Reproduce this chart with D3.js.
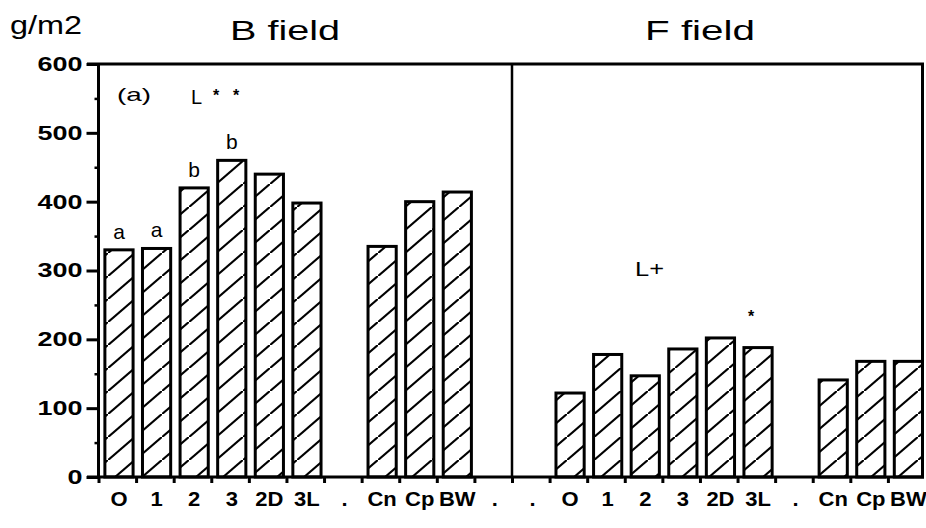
<!DOCTYPE html>
<html>
<head>
<meta charset="utf-8">
<script src="https://cdn.jsdelivr.net/npm/d3@7"></script>
<style>
  html, body { margin: 0; padding: 0; background: #fff; }
  svg { display: block; }
  text { font-family: "Liberation Sans", Arial, Helvetica, sans-serif; fill: #000; }
</style>
</head>
<body>
<svg id="chart" width="926" height="528"></svg>
<script>
// Slot labels along the x axis (B field then F field, with "." spacer slots)
const slotLabels = ["O", "1", "2", "3", "2D", "3L", ".", "Cn", "Cp", "BW", ".",
                    ".", "O", "1", "2", "3", "2D", "3L", ".", "Cn", "Cp", "BW"];
// Biomass (g/m2) per slot; null = empty spacer slot
const bFieldValues = [330, 332, 420, 460, 440, 398, null, 335, 400, 414, null];
const fFieldValues = [null, 122, 178, 147, 186, 202, 188, null, 141, 168, 168];
// Letters marking significant groups over the first B field bars
const sigLetters = ["a", "a", "b", "b"];
const yTicks = [0, 100, 200, 300, 400, 500, 600];
const yMinorTicks = [50, 150, 250, 350, 450, 550];
const panelTitles = ["B  field", "F  field"];

const values = bFieldValues.concat(fFieldValues);
const data = values.map((v, i) => ({ i, label: slotLabels[i], v }));

const svg = d3.select("#chart");
const plotLeft = 98.5, plotRight = 925.5, plotTop = 64, plotBottom = 477;

const x = d3.scaleBand().domain(d3.range(slotLabels.length)).range([plotLeft, plotRight]).padding(0);
const step = x.step();
const xEdge = d3.scaleLinear().domain([0, slotLabels.length]).range([plotLeft, plotRight]);
const y = d3.scaleLinear().domain([0, 600]).range([plotBottom, plotTop]);

// diagonal hatch fill
const defs = svg.append("defs");
const pat = defs.append("pattern")
  .attr("id", "hatch").attr("patternUnits", "userSpaceOnUse")
  .attr("width", 27).attr("height", 23);
pat.append("rect").attr("width", 27).attr("height", 23).attr("fill", "#fff");
pat.append("path").attr("d", "M-1,24 L28,-1")
  .attr("stroke", "#000").attr("stroke-width", 2.1).attr("stroke-linecap", "square");

const barOffset = step * 0.17, barWidth = step * 0.75;

// bars
svg.append("g").selectAll("rect")
  .data(data.filter(d => d.v != null))
  .join("rect")
  .attr("x", d => x(d.i) + barOffset)
  .attr("y", d => y(d.v))
  .attr("width", barWidth)
  .attr("height", d => y(0) - y(d.v))
  .attr("fill", "url(#hatch)")
  .attr("stroke", "#000")
  .attr("stroke-width", 3);

// frame: top border, divider between fields, right border
const frame = svg.append("g").attr("stroke", "#000").attr("fill", "none");
frame.append("line").attr("x1", 87).attr("x2", 924).attr("y1", plotTop).attr("y2", plotTop).attr("stroke-width", 3);
frame.append("line").attr("x1", xEdge(11)).attr("x2", xEdge(11)).attr("y1", plotTop).attr("y2", plotBottom).attr("stroke-width", 2.5);
frame.append("line").attr("x1", 922.5).attr("x2", 922.5).attr("y1", plotTop).attr("y2", plotBottom).attr("stroke-width", 3);

// y axis: major and minor ticks
const yAxis = svg.append("g").attr("transform", `translate(${plotLeft},0)`)
  .call(d3.axisLeft(y).tickValues(yTicks).tickSize(12).tickPadding(4).tickFormat(d3.format("d")));
yAxis.select(".domain").attr("stroke-width", 3).attr("d", `M0,${plotTop}V${plotBottom}`);
yAxis.selectAll(".tick line").attr("stroke-width", 3);
yAxis.selectAll(".tick text")
  .attr("font-size", 20).attr("font-weight", "bold")
  .attr("textLength", d => String(d).length * 15)
  .attr("lengthAdjust", "spacingAndGlyphs");
const yMinor = svg.append("g").attr("transform", `translate(${plotLeft},0)`)
  .call(d3.axisLeft(y).tickValues(yMinorTicks).tickSize(4).tickFormat(""));
yMinor.select(".domain").remove();
yMinor.selectAll(".tick line").attr("stroke-width", 2.5);

// x axis: baseline with ticks at slot boundaries
const xTicks = svg.append("g").attr("transform", `translate(0,${plotBottom})`)
  .call(d3.axisBottom(xEdge).tickValues(d3.range(0, slotLabels.length)).tickSize(6).tickFormat(""));
xTicks.select(".domain").attr("stroke-width", 3).attr("d", `M87,0H924`);
xTicks.selectAll(".tick line").attr("stroke-width", 3);

// x labels centered under bars
const xLabels = svg.append("g").attr("transform", `translate(${barOffset + barWidth / 2 - step / 2},${plotBottom})`)
  .call(d3.axisBottom(x).tickSize(0).tickPadding(15).tickFormat(i => slotLabels[i]));
xLabels.select(".domain").remove();
xLabels.selectAll(".tick text")
  .attr("font-size", 20).attr("font-weight", "bold")
  .attr("transform", "scale(1.1,1)");

// significance letters over bars
svg.append("g").selectAll("text")
  .data(sigLetters.map((s, i) => ({ s, d: data[i] })))
  .join("text")
  .attr("x", d => x(d.d.i) + barOffset + barWidth / 2)
  .attr("y", d => y(d.d.v) - 11)
  .attr("text-anchor", "middle")
  .attr("font-size", 21)
  .text(d => d.s);

// titles and annotations
svg.append("text").attr("x", 10).attr("y", 34).attr("font-size", 25)
  .attr("textLength", 72).attr("lengthAdjust", "spacingAndGlyphs").text("g/m2");
svg.append("text").attr("x", 230).attr("y", 40).attr("font-size", 27)
  .attr("textLength", 110).attr("lengthAdjust", "spacingAndGlyphs").text(panelTitles[0]);
svg.append("text").attr("x", 645).attr("y", 40).attr("font-size", 27)
  .attr("textLength", 110).attr("lengthAdjust", "spacingAndGlyphs").text(panelTitles[1]);
svg.append("text").attr("x", 117).attr("y", 101).attr("font-size", 19)
  .attr("textLength", 34).attr("lengthAdjust", "spacingAndGlyphs").text("(a)");
svg.append("text").attr("x", 191).attr("y", 104).attr("font-size", 20).text("L");
svg.append("text").attr("x", 213).attr("y", 101).attr("font-size", 16).attr("font-weight", "bold").text("*");
svg.append("text").attr("x", 233).attr("y", 101).attr("font-size", 16).attr("font-weight", "bold").text("*");
svg.append("text").attr("x", 635).attr("y", 276).attr("font-size", 20)
  .attr("textLength", 29).attr("lengthAdjust", "spacingAndGlyphs").text("L+");
svg.append("text").attr("x", 748).attr("y", 322).attr("font-size", 16).attr("font-weight", "bold").text("*");
</script>
</body>
</html>
